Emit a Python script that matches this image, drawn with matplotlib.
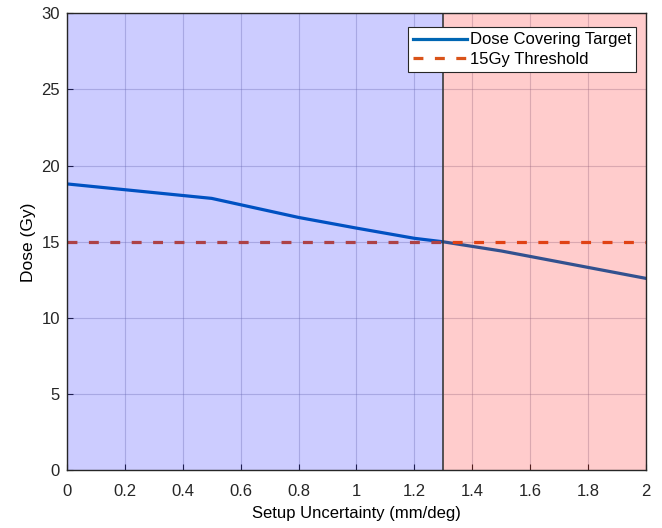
import matplotlib
matplotlib.use("Agg")
import matplotlib.pyplot as plt
from matplotlib.patches import Rectangle

plt.rcParams['font.family'] = ['Liberation Sans', 'DejaVu Sans']

uncertainty = [0.0, 0.5, 0.8, 1.0, 1.2, 1.3, 1.5, 2.0]
dose = [18.8, 17.85, 16.6, 15.9, 15.23, 15.0, 14.4, 12.6]
threshold = 15.0
cutoff = 1.3
xticks = [0, 0.2, 0.4, 0.6, 0.8, 1, 1.2, 1.4, 1.6, 1.8, 2]
xticklabels = ['0', '0.2', '0.4', '0.6', '0.8', '1', '1.2', '1.4', '1.6', '1.8', '2']
yticks = [0, 5, 10, 15, 20, 25, 30]

fig = plt.figure(figsize=(6.62, 5.28), dpi=100)
ax = fig.add_axes([0.101, 0.109, 0.875, 0.866])

ax.plot(uncertainty, dose, color=(0, 0.40, 0.70), lw=2.3, label='Dose Covering Target', zorder=2)
ax.axhline(threshold, color=(0.85, 0.325, 0.098), lw=2.3, ls=(0, (3.1, 3.6)), label='15Gy Threshold', zorder=2)

ax.add_patch(Rectangle((0, 0), cutoff, 30, facecolor=(0, 0, 1), alpha=0.2, edgecolor='none', zorder=3))
ax.add_patch(Rectangle((cutoff, 0), 2 - cutoff, 30, facecolor=(1, 0, 0), alpha=0.2, edgecolor='none', zorder=3))
ax.axvline(cutoff, color='#3a3a3a', lw=1.2, zorder=4)

ax.set_xlim(0, 2)
ax.set_ylim(0, 30)
ax.set_xticks(xticks)
ax.set_xticklabels(xticklabels)
ax.set_yticks(yticks)
ax.grid(True, color='#8080a0', lw=0.8, alpha=0.35, zorder=1)
ax.set_axisbelow(True)
ax.tick_params(direction='in', length=4, labelsize=12, colors='#262626')
ax.tick_params(axis='x', pad=10)
ax.tick_params(axis='y', pad=5)
for s in ax.spines.values():
    s.set_color('#262626')
    s.set_linewidth(1.0)
    s.set_zorder(5)

ax.set_xlabel('Setup Uncertainty (mm/deg)', fontsize=12, labelpad=5)
ax.set_ylabel('Dose (Gy)', fontsize=12.5, labelpad=4)

leg = ax.legend(loc='upper right', bbox_to_anchor=(0.983, 0.969), borderaxespad=0,
                fontsize=12, frameon=True, fancybox=False,
                edgecolor='#262626', framealpha=1, borderpad=0.3, handlelength=3.2,
                handletextpad=0.2, labelspacing=0.25)
leg.set_zorder(6)
leg.get_frame().set_linewidth(0.8)

fig.savefig('out.png', dpi=100)
